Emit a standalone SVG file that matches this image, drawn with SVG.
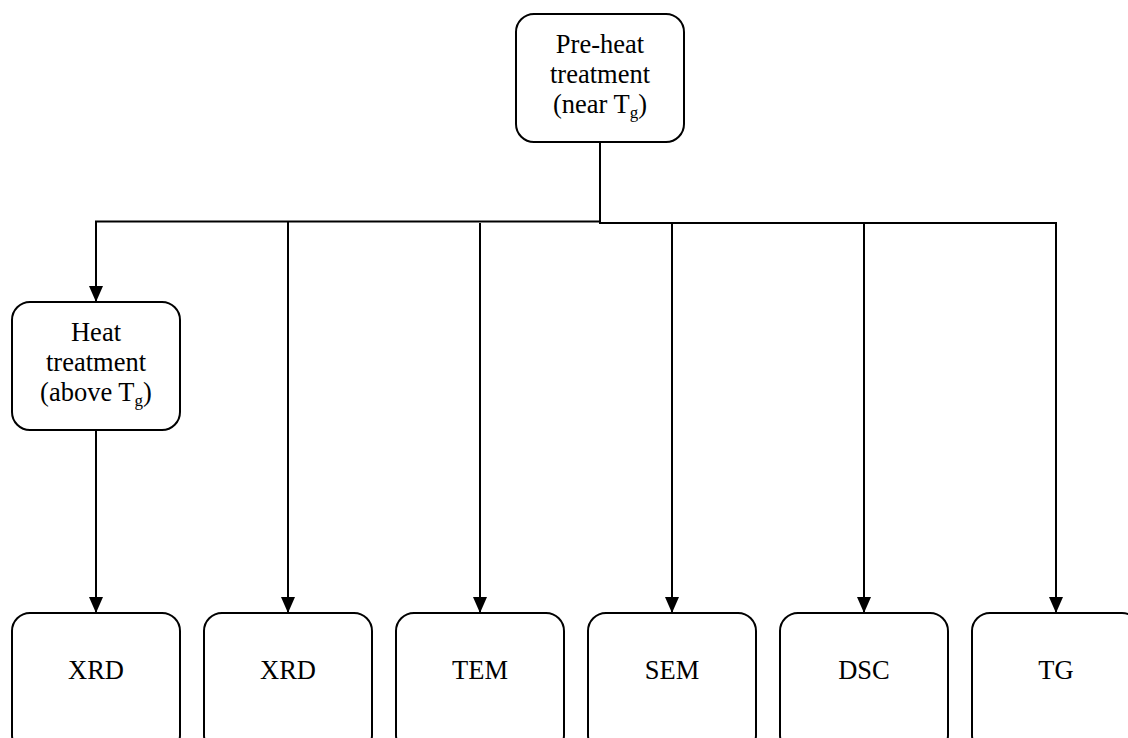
<svg xmlns="http://www.w3.org/2000/svg" width="1128" height="738" viewBox="0 0 1128 738">
<style>
.box{fill:#fff;stroke:#000;stroke-width:2}
.t{font-family:"Liberation Serif","Times New Roman",serif;font-size:26.5px;fill:#000;text-anchor:middle}
.sub{font-size:17px}
.ln{fill:none;stroke:#000;stroke-width:2}
</style>
<defs>
<marker id="ah" markerWidth="16" markerHeight="14" refX="16" refY="7" orient="auto" markerUnits="userSpaceOnUse" viewBox="0 0 16 14">
<path d="M0,0 L16,7 L0,14 Z" fill="#000"/>
</marker>
</defs>
<g id="connectors">
<path class="ln" d="M600,142 V222.5"/>
<path class="ln" d="M600,221.5 H96 V302" marker-end="url(#ah)"/>
<path class="ln" d="M599,223 H1056 V613" marker-end="url(#ah)"/>
<path class="ln" d="M288,221.5 V613" marker-end="url(#ah)"/>
<path class="ln" d="M480,223 V613" marker-end="url(#ah)"/>
<path class="ln" d="M672,223 V613" marker-end="url(#ah)"/>
<path class="ln" d="M864,223 V613" marker-end="url(#ah)"/>
<path class="ln" d="M96,430 V613" marker-end="url(#ah)"/>
</g>
<g id="preheat">
<rect class="box" x="516" y="14" width="168" height="128" rx="18"/>
<text class="t" x="600" y="53">Pre-heat</text>
<text class="t" x="600" y="83">treatment</text>
<text class="t" x="600" y="113">(near T<tspan class="sub" dy="5">g</tspan><tspan dy="-5">)</tspan></text>
</g>
<g id="heat">
<rect class="box" x="12" y="302" width="168" height="128" rx="18"/>
<text class="t" x="96" y="341">Heat</text>
<text class="t" x="96" y="371">treatment</text>
<text class="t" x="96" y="401">(above T<tspan class="sub" dy="5">g</tspan><tspan dy="-5">)</tspan></text>
</g>
<g id="xrd1">
<rect class="box" x="12" y="613" width="168" height="140" rx="18"/>
<text class="t" x="96" y="679">XRD</text>
</g>
<g id="xrd2">
<rect class="box" x="204" y="613" width="168" height="140" rx="18"/>
<text class="t" x="288" y="679">XRD</text>
</g>
<g id="tem">
<rect class="box" x="396" y="613" width="168" height="140" rx="18"/>
<text class="t" x="480" y="679">TEM</text>
</g>
<g id="sem">
<rect class="box" x="588" y="613" width="168" height="140" rx="18"/>
<text class="t" x="672" y="679">SEM</text>
</g>
<g id="dsc">
<rect class="box" x="780" y="613" width="168" height="140" rx="18"/>
<text class="t" x="864" y="679">DSC</text>
</g>
<g id="tg">
<rect class="box" x="972" y="613" width="168" height="140" rx="18"/>
<text class="t" x="1056" y="679">TG</text>
</g>
</svg>
